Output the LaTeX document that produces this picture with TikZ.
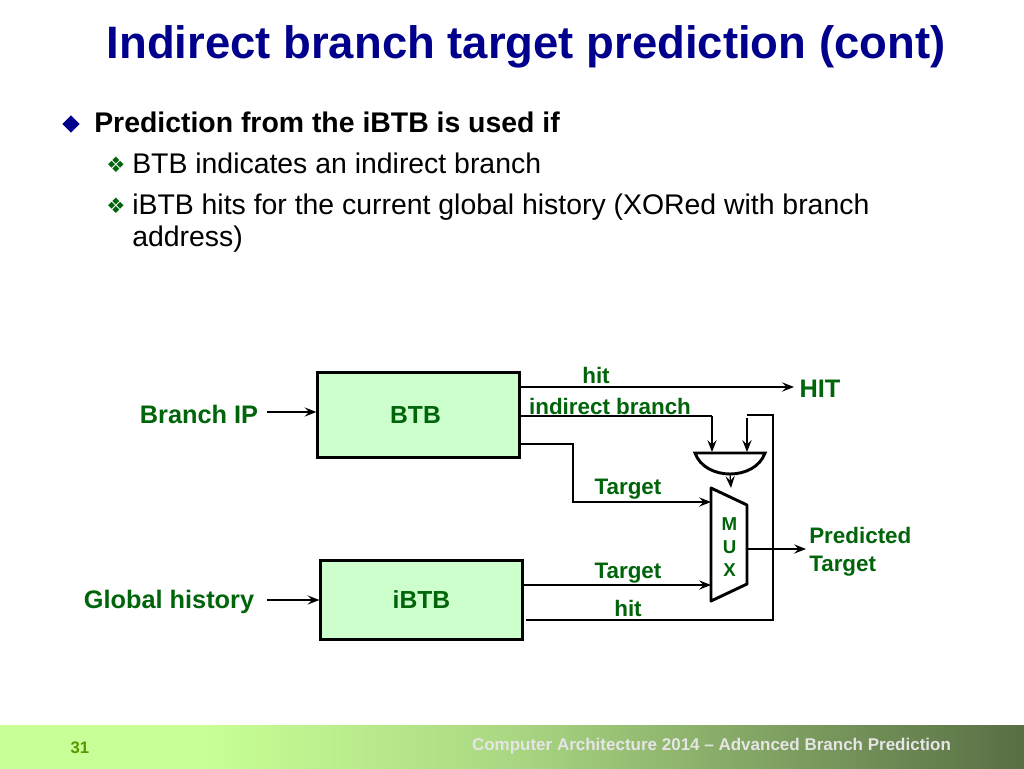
\documentclass[tikz,border=0pt]{standalone}
\usepackage{fontspec}
\setmainfont{Liberation Sans}
\newfontfamily\symfont{DejaVu Sans}
\usetikzlibrary{shapes.geometric,arrows.meta}
\definecolor{titleblue}{RGB}{0,0,140}
\definecolor{labelgreen}{RGB}{0,100,10}
\definecolor{boxgreen}{RGB}{204,255,204}
\definecolor{footlight}{RGB}{200,255,150}
\definecolor{footmid}{RGB}{170,215,130}
\definecolor{footdark}{RGB}{88,110,68}
\definecolor{pagegreen}{RGB}{90,150,0}
\pgfdeclarehorizontalshading{footshade}{100bp}{color(0bp)=(footlight); color(35bp)=(footlight); color(50bp)=(footmid); color(75bp)=(footdark); color(100bp)=(footdark)}
\tikzset{
  unit/.style={draw,line width=2.2pt,fill=boxgreen,minimum width=151pt,text=labelgreen,font=\fontsize{18.5}{20}\selectfont\bfseries},
  wire/.style={line width=0.9pt},
  wirearrow/.style={line width=0.9pt,-{Stealth[length=9pt,width=7pt,inset=3.5pt]}},
  lab/.style={text=labelgreen,inner sep=0pt,font=\fontsize{16.8}{18}\selectfont\bfseries},
  biglab/.style={text=labelgreen,inner sep=0pt,font=\fontsize{19}{20}\selectfont\bfseries},
  bodytext/.style={anchor=base west,inner sep=0pt,font=\fontsize{21.3}{24}\selectfont},
  subbullet/.style={text=labelgreen,inner sep=0pt,font=\symfont\fontsize{16}{18}\selectfont},
}
\begin{document}
\begin{tikzpicture}[x=0.75pt,y=0.75pt,yscale=-1,xscale=1]
\useasboundingbox (0,0) rectangle (1024,768);

% Footer
\shade[shading=footshade] (0,725) rectangle (1024,768);
\node[text=white!90!black,inner sep=0pt,font=\fontsize{12.75}{14}\selectfont\bfseries] (foottext) at (711.5,746.5) {Computer Architecture 2014 -- Advanced Branch Prediction};
\node[text=pagegreen,inner sep=0pt,font=\fontsize{12.5}{14}\selectfont\bfseries] (pagenum) at (80,748) {31};

% Title and bullets
\node[text=titleblue,inner sep=0pt,font=\fontsize{34.1}{40}\selectfont\bfseries] (title) at (526,47) {Indirect branch target prediction (cont)};
\node[diamond,fill=titleblue,inner sep=0pt,minimum width=13pt,minimum height=13pt] (bulletmain) at (71,124) {};
\node[bodytext,font=\fontsize{21.3}{24}\selectfont\bfseries] (mainline) at (94,132) {Prediction from the iBTB is used if};
\node[subbullet] (bulleta) at (116,165) {❖};
\node[bodytext] (linea) at (132,173) {BTB indicates an indirect branch};
\node[subbullet] (bulletb) at (116,206) {❖};
\node[bodytext] (lineb) at (132,214) {iBTB hits for the current global history (XORed with branch};
\node[bodytext] (linec) at (132,246) {address)};

% Boxes
\node[unit,minimum height=63.5pt] (BTB) at (418.5,415) {BTB\kern 4.5pt};
\node[unit,minimum height=59pt] (iBTB) at (421.5,600) {iBTB};

% Mux and gate
\coordinate (muxa) at (711,488);
\coordinate (muxb) at (747,505);
\coordinate (muxc) at (747,584);
\coordinate (muxd) at (711,601);
\draw[line width=2.2pt,line join=round] (muxa) -- (muxb) -- (muxc) -- (muxd) -- cycle;
\node[text=labelgreen,inner sep=0pt,align=center,font=\fontsize{14}{17.5}\selectfont\bfseries] (muxlabel) at (729.5,547) {M\\U\\X};
\coordinate (gatel) at (695,453);
\coordinate (gater) at (765,453);
\coordinate (gateb) at (730,474);
\draw[line width=2.2pt] (gatel) -- (gater) .. controls (760,467) and (745,474) .. (gateb) .. controls (715,474) and (700,467) .. (gatel) -- cycle;

% Free ends
\coordinate (hitend) at (794,387);
\coordinate (branchin) at (267,412);
\coordinate (historyin) at (267,600);
\coordinate (outend) at (806,549);
\coordinate (gatein) at (712,452);
\coordinate (gateinb) at (747,452);
\coordinate (orstart) at (747,415);
\coordinate (orstartb) at (747,418);
\coordinate (hitstart) at (526,620);

% Wires
\draw[wirearrow] (branchin) -- (BTB.west |- branchin);
\draw[wirearrow] (historyin) -- (iBTB.west |- historyin);
\draw[wirearrow] (BTB.east |- hitend) -- (hitend);
\draw[wire] (BTB.east |- 0,416) -- (712,416);
\draw[wirearrow] (712,416) -- (gatein);
\draw[wirearrow] (BTB.east |- 0,444) -- (573,444) -- (573,502) -- (muxa |- 0,502);
\draw[wirearrow] (iBTB.east |- 0,585) -- (muxa |- 0,585);
\draw[wire] (hitstart) -- (773,620) -- (773,415) -- (orstart);
\draw[wirearrow] (orstartb) -- (gateinb);
\draw[wirearrow] (gateb) -- (731,488);
\draw[wirearrow] (muxb |- outend) -- (outend);

% Labels
\node[biglab] (branchlabel) at (199,414) {Branch IP};
\node[biglab] (historylabel) at (169,602) {Global history};
\node[biglab] (hitlabel) at (820,389) {HIT};
\node[lab] (hita) at (596,375) {hit};
\node[lab] (indirect) at (610,406) {indirect branch};
\node[lab] (targeta) at (628,489) {Target};
\node[lab] (targetb) at (628,573) {Target};
\node[lab] (hitb) at (628,608) {hit};
\node[lab,anchor=west,align=left,font=\fontsize{16.8}{21}\selectfont\bfseries] (predicted) at (809,552) {Predicted\\Target};
\end{tikzpicture}
\end{document}
